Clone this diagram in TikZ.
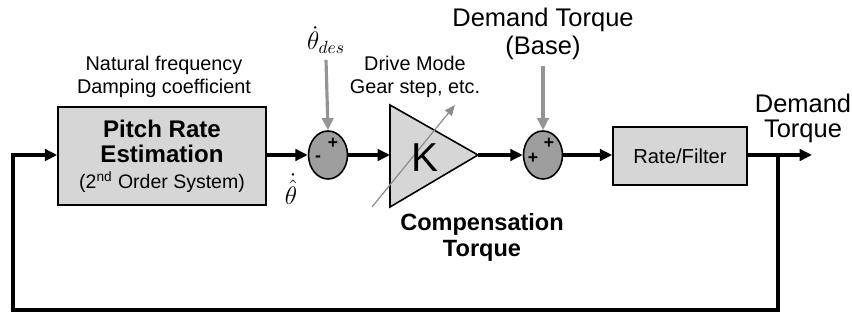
\documentclass[tikz,border=0pt]{standalone}
\usepackage{amsmath}
\usepackage{fontspec}
\setmainfont{Liberation Sans}
\usetikzlibrary{arrows.meta,positioning,shapes.geometric,calc}

\begin{document}
\begin{tikzpicture}[
  x=0.02cm, y=-0.02cm,
  blk/.style={draw=black, line width=0.9pt, fill=black!16, align=center},
  sumj/.style={ellipse, draw=black, line width=0.9pt, fill=black!38, minimum width=0.78cm, minimum height=0.96cm, inner sep=0pt},
  sig/.style={-{Triangle[length=7pt,width=6.5pt]}, line width=1.8pt},
  ext/.style={-{Triangle[length=7pt,width=6.5pt]}, line width=1.8pt, draw=black!42},
  lbl/.style={align=center, font=\fontsize{11.3}{12}\selectfont},
  big/.style={align=center, font=\fontsize{14.5}{16}\selectfont},
  sgn/.style={font=\fontsize{10}{10}\selectfont\bfseries, inner sep=0pt},
]
\useasboundingbox (0,0) rectangle (852,320);

% estimator
\node[blk, minimum width=4.16cm, minimum height=1.96cm] (pre) at (162,156)
  {\fontsize{13.7}{15.4}\selectfont\bfseries Pitch Rate\\[2.5pt]
   \fontsize{13.7}{15.4}\selectfont\bfseries Estimation\\[2.5pt]
   \fontsize{11.1}{15.4}\selectfont (2\textsuperscript{nd} Order System)};
\node[lbl] (par) at (164,77) {Natural frequency\\[1.5pt]Damping coefficient};

% summing points
\node[sumj] (s1) at (328,155) {};
\node[sumj] (s2) at (543,155) {};
\node[sgn] at (333,143) {+};
\node[sgn] at (318,159) {-};
\node[sgn] at (549,143) {+};
\node[sgn] at (533,158) {+};

% gain K
\coordinate (ktop) at (390,105);
\coordinate (kbot) at (390,207);
\coordinate (kin)  at (390,155);
\coordinate (kout) at (478,155);
\draw[line width=0.9pt, fill=black!16] (ktop) -- (kout) -- (kbot) -- cycle;
\coordinate (vk0) at (372,207);
\coordinate (vk1) at (455,105);
\draw[-{Triangle[length=6pt,width=5pt]}, black!45, line width=0.7pt] (vk0) -- (vk1);
\node[font=\fontsize{23}{24}\selectfont] (k) at (425,158) {K};
\node[lbl] (mode) at (415,77) {Drive Mode\\[1.5pt]Gear step, etc.};
\node[align=center, font=\fontsize{13.4}{14.8}\selectfont\bfseries] (comp) at (482,237) {Compensation\\Torque};

% filter
\node[blk, minimum width=2.68cm, minimum height=1.16cm, font=\fontsize{11.5}{12}\selectfont] (filt) at (680,156) {Rate/Filter};

% inputs
\node[font=\fontsize{14}{14}\selectfont] (des) at (326,40) {$\dot{\theta}_{des}$};
\node[big] (base) at (543,34) {Demand Torque\\(Base)};
\node[font=\fontsize{15}{15}\selectfont] (est) at (291,189) {$\dot{\hat{\theta}}$};
\node[align=center, font=\fontsize{14.5}{14.2}\selectfont] (dem) at (803,118) {Demand\\Torque};

% signal path
\coordinate (tap) at (778,155);
\coordinate (out) at (812,155);
\coordinate (fbr) at (778,310);
\coordinate (fbl) at (13,310);
\draw[sig] (pre.east |- tap) -- (s1.west);
\draw[sig] (s1.east) -- (kin);
\draw[sig] (kout) -- (s2.west);
\draw[sig] (s2.east) -- (filt.west |- tap);
\draw[sig] (filt.east |- tap) -- (out);
\draw[sig] (tap) -- (fbr) -- (fbl) |- (pre.west |- tap);
\draw[ext] (des.south) -- (s1.north);
\draw[ext] (base.south) -- (s2.north);

\end{tikzpicture}
\end{document}
